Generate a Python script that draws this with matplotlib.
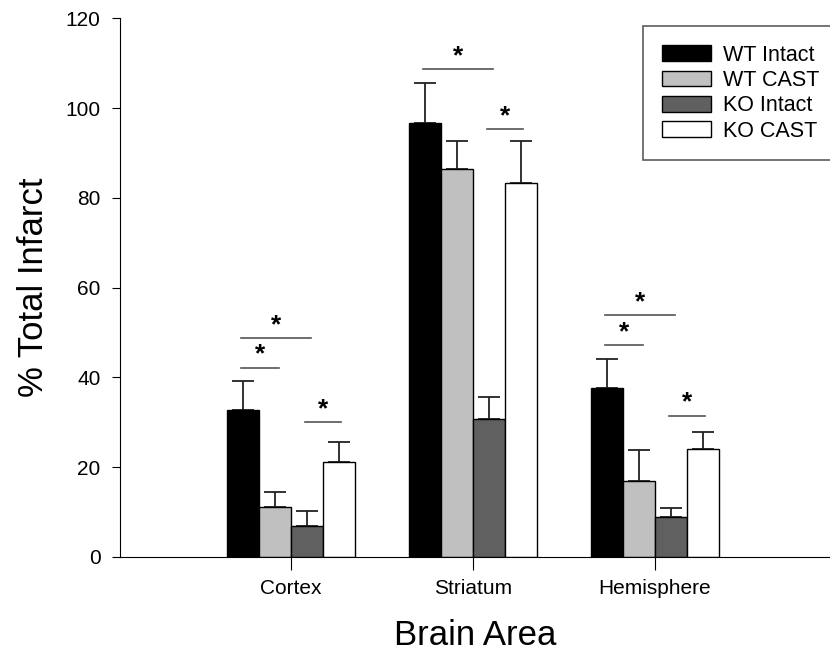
import numpy as np
import matplotlib.pyplot as plt

plt.rcParams['font.family'] = ['Liberation Sans', 'DejaVu Sans']

# Data
areas = ['Cortex', 'Striatum', 'Hemisphere']
groups = ['WT Intact', 'WT CAST', 'KO Intact', 'KO CAST']
means = {
    'WT Intact': [32.7, 96.7, 37.6],
    'WT CAST':   [11.2, 86.4, 17.0],
    'KO Intact': [7.0, 30.7, 8.8],
    'KO CAST':   [21.2, 83.4, 24.1],
}
errs = {
    'WT Intact': [6.6, 8.9, 6.4],
    'WT CAST':   [3.2, 6.3, 6.9],
    'KO Intact': [3.2, 4.9, 2.1],
    'KO CAST':   [4.5, 9.3, 3.8],
}
colors = ['#000000', '#c0c0c0', '#606060', '#ffffff']

# significance lines: (area index, first group, last group, height)
sig = [
    (0, 0, 2, 48.7), (0, 0, 1, 42.2), (0, 3, 3, 30.1),
    (1, 0, 2, 108.7), (1, 3, 3, 95.4),
    (2, 0, 2, 53.8), (2, 0, 1, 47.2), (2, 3, 3, 31.5),
]

fig = plt.figure(figsize=(8.3, 6.56), dpi=100)
ax = fig.add_axes([0.1446, 0.151, 0.8554, 0.821])

x = np.arange(1, len(areas) + 1)
w = 0.176
offsets = (np.arange(len(groups)) - 1.5) * w

for i, g in enumerate(groups):
    ax.bar(x + offsets[i], means[g], width=w, color=colors[i],
           edgecolor='black', linewidth=1, label=g, zorder=2)
    ax.errorbar(x + offsets[i], means[g], yerr=[np.zeros(3), errs[g]],
                fmt='none', ecolor='#222222', elinewidth=1.3,
                capsize=8, capthick=1.3, zorder=1)

for a, g1, g2, h in sig:
    if g1 == g2:
        # short line centred on the left edge of the bar
        edge = x[a] + offsets[g1] - w / 2
        x0, x1 = edge - 0.55 * w, edge + 0.55 * w
    else:
        x0 = x[a] + offsets[g1] - 0.05 * w
        x1 = x[a] + offsets[g2] + 0.12 * w
    ax.plot([x0, x1], [h, h], color='#555555', linewidth=1.2)
    ax.text((x0 + x1) / 2, h + 0.2, '*', ha='center', va='bottom',
            fontsize=19, fontweight='bold')

ax.set_xlim(0.0604, 3.9615)
ax.set_ylim(0, 120)
ax.set_yticks(np.arange(0, 121, 20))
ax.set_xticks(x)
ax.set_xticklabels(areas)
ax.tick_params(axis='y', labelsize=15, length=6, direction='out', pad=8)
ax.tick_params(axis='x', labelsize=15, length=9, direction='out', pad=7)
ax.spines['top'].set_visible(False)
ax.spines['right'].set_visible(False)

ax.set_ylabel('% Total Infarct', fontsize=25, labelpad=11)
ax.set_xlabel('Brain Area', fontsize=25, labelpad=15)

leg = ax.legend(loc='upper left', bbox_to_anchor=(0.737, 0.985), fontsize=15.5,
                frameon=True, fancybox=False, edgecolor='#333333',
                handlelength=2.3, handleheight=0.75, handletextpad=0.55,
                labelspacing=0.2, borderpad=0.85, borderaxespad=0)
leg.get_frame().set_linewidth(1.2)

fig.savefig('out.png', dpi=100)
